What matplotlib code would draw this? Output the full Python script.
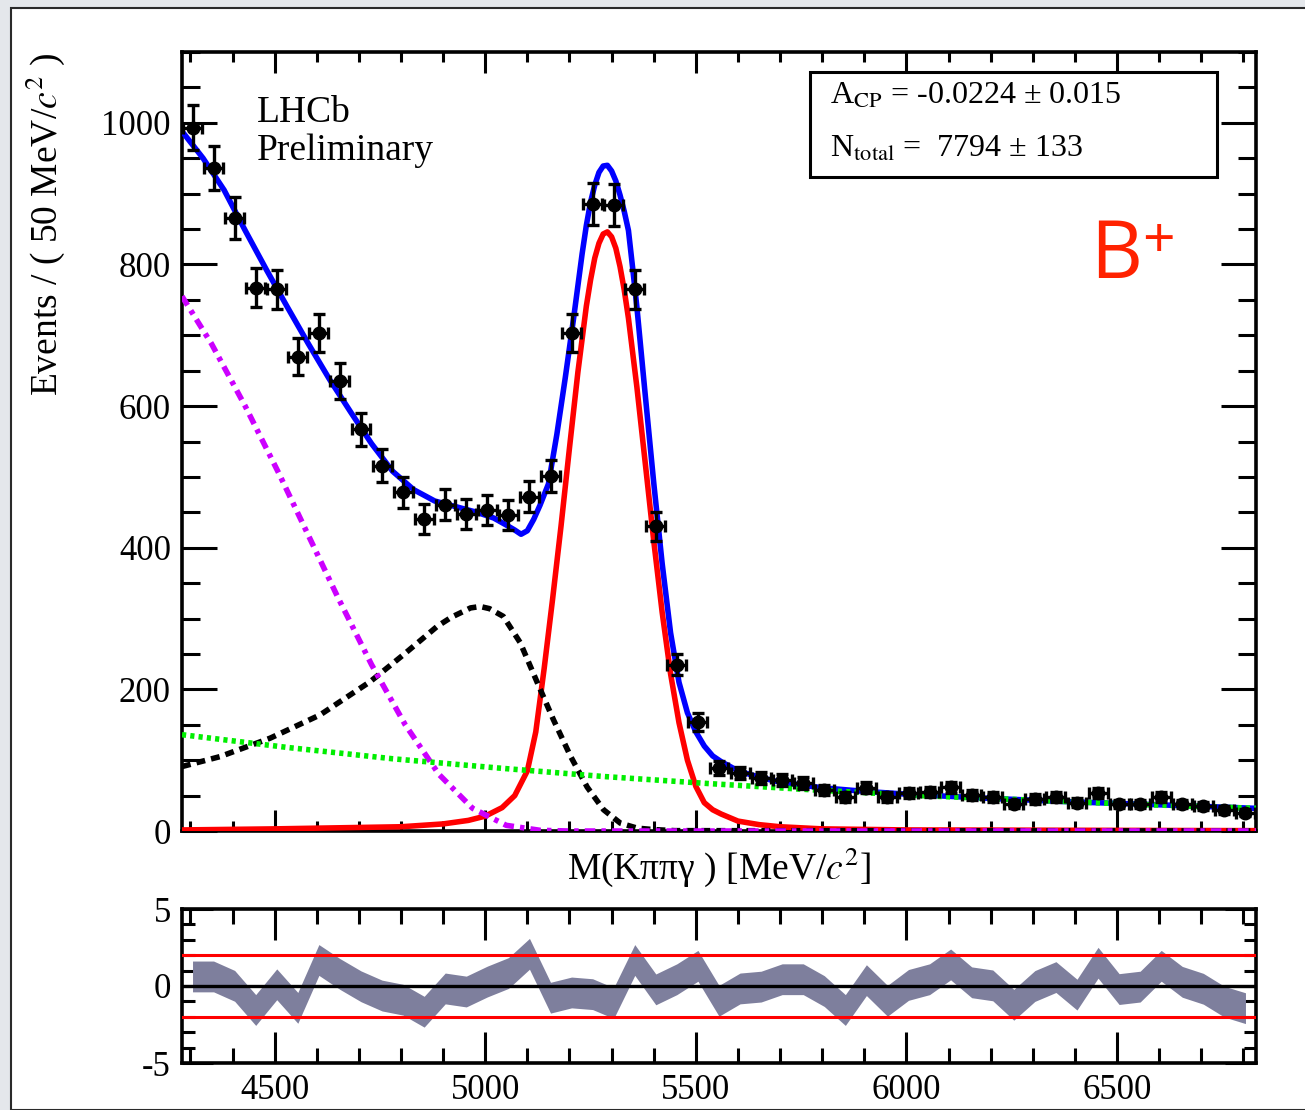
import numpy as np
import matplotlib
matplotlib.use("Agg")
import matplotlib.pyplot as plt
from matplotlib.ticker import MultipleLocator
from matplotlib.patches import Rectangle

# ---------------- data ----------------
mass_lo, mass_hi, bin_width = 4280, 6830, 50
bin_centers = np.arange(mass_lo + bin_width / 2, mass_hi, bin_width)
counts = [993, 936, 866, 767, 765, 670, 703, 635, 567, 516,
          478, 441, 461, 448, 453, 446, 472, 501, 703, 885,
          884, 765, 430, 235, 154, 89, 82, 75, 72, 68,
          58, 48, 61, 48, 54, 55, 62, 51, 48, 38,
          45, 48, 40, 54, 38, 38, 48, 38, 35, 30, 26]
pulls = [0.62, 0.62, 0.01, -1.56, 0.11, -1.42, 1.69, 0.78, -0.02, -0.62,
         -0.89, -1.67, -0.16, -0.36, 0.29, 0.84, 2.09, -0.76, -0.42, -0.53,
         -1.11, 1.69, -0.22, 0.44, 1.31, -0.96, -0.16, -0.04, 0.44, 0.44,
         -0.33, -1.56, 0.38, -0.96, 0.07, 0.44, 1.40, 0.24, 0.04, -1.22,
         0.00, 0.58, -0.56, 1.51, -0.20, -0.04, 1.31, 0.27, -0.18, -1.02, -1.44]
pull_band_halfwidth = 1.0

# fit curves (values at knot masses)
total_x = [4280, 4330, 4380, 4430, 4480, 4530, 4580, 4630, 4680, 4730, 4780, 4830,
           4880, 4930, 4980, 5020, 5050, 5070, 5085, 5100, 5115, 5130, 5150, 5170,
           5190, 5210, 5230, 5240, 5250, 5260, 5270, 5280, 5290, 5300, 5310, 5320,
           5330, 5340, 5350, 5360, 5380, 5400, 5420, 5440, 5460, 5480, 5500, 5520,
           5540, 5560, 5600, 5650, 5700, 5800, 5900, 6000, 6200, 6400, 6600, 6830]
total_y = [988, 950, 905, 848, 793, 740, 688, 638, 592, 547, 508, 482,
           466, 458, 450, 442, 432, 425, 419, 424, 440, 460, 490, 560,
           640, 725, 815, 855, 888, 912, 930, 939, 940, 932, 918, 898,
           875, 848, 795, 740, 615, 492, 378, 280, 210, 167, 140, 120,
           106, 98, 85, 76, 69, 61, 56, 52, 46, 41, 37, 32]

signal_x = [4280, 4500, 4700, 4800, 4900, 4960, 5000, 5040, 5070, 5100, 5120, 5140,
            5160, 5180, 5200, 5220, 5240, 5250, 5260, 5270, 5280, 5290, 5300, 5310,
            5320, 5330, 5340, 5360, 5380, 5400, 5420, 5440, 5460, 5480, 5500, 5520,
            5540, 5560, 5600, 5650, 5700, 5800, 6000, 6830]
signal_y = [1.5, 3, 5, 6, 10, 15, 21, 33, 50, 85, 140, 230,
            328, 431, 541, 648, 741, 778, 809, 830, 843, 846, 839, 823,
            797, 764, 724, 627, 519, 410, 309, 222, 153, 100, 63, 40,
            30, 24, 14, 9, 6, 3, 1.5, 0.5]

peaking_x = [4280, 4370, 4489, 4608, 4727, 4806, 4886, 4920, 4948, 4965, 4988, 5010,
             5043, 5083, 5124, 5162, 5203, 5242, 5281, 5321, 5361, 5400, 5450, 6830]
peaking_y = [91, 105, 131, 164, 211, 249, 289, 302, 310, 315, 317, 314,
             303, 266, 209, 157, 105, 62, 30, 11, 4, 2, 0.5, 0]

partreco_x = [4280, 4350, 4430, 4510, 4590, 4650, 4730, 4810, 4890, 4970, 5050, 5130, 5200, 6830]
partreco_y = [755, 688, 600, 505, 405, 330, 235, 150, 80, 32, 8, 1, 0, 0]

comb_x = [4280, 4530, 4780, 5030, 5280, 5530, 5780, 6030, 6280, 6530, 6830]
comb_y = [136, 118, 102, 89, 77, 67, 58, 50, 44, 38, 32]

acp_text = r"A$_{\rm CP}$ = -0.0224 ± 0.015"
ntot_text = r"N$_{\rm total}$ =  7794 ± 133"

# ---------------- style ----------------
plt.rcParams["font.family"] = ["Liberation Serif", "DejaVu Serif"]
plt.rcParams["mathtext.fontset"] = "stix"
plt.rcParams["axes.unicode_minus"] = False

W, H = 1305, 1110
fig = plt.figure(figsize=(W / 100, H / 100), dpi=100)
fig.patch.set_facecolor("#e4e7eb")
fig.patches.append(Rectangle((11 / W, 0), 2, 1 - 8 / H, transform=fig.transFigure,
                             facecolor="white", edgecolor="#2a2a2a", lw=1.5, zorder=-10))

def fx(px):
    return px / W

def fy(py):
    return 1 - py / H

ax = fig.add_axes([fx(182), fy(831), fx(1256) - fx(182), fy(52) - fy(831)])
rax = fig.add_axes([fx(182), fy(1063), fx(1256) - fx(182), fy(909) - fy(1063)])

for a in (ax, rax):
    for s in a.spines.values():
        s.set_linewidth(2.6)
    a.set_xlim(mass_lo, mass_hi)
    a.xaxis.set_major_locator(MultipleLocator(500))
    a.xaxis.set_minor_locator(MultipleLocator(100))
    a.tick_params(which="both", direction="in", top=True, right=True, width=2.2,
                  labelsize=25, pad=8)

ax.tick_params(axis="x", which="major", length=15)
ax.tick_params(axis="x", which="minor", length=7)
ax.tick_params(axis="y", which="major", length=25)
ax.tick_params(axis="y", which="minor", length=13)
ax.tick_params(axis="x", labelbottom=False)

ax.set_ylim(0, 1100)
ax.yaxis.set_major_locator(MultipleLocator(200))
ax.yaxis.set_minor_locator(MultipleLocator(50))

LW = 4.0
# curves
ax.plot(total_x, total_y, color="#0000ff", lw=LW, zorder=3, solid_joinstyle="round")
ax.plot(signal_x, signal_y, color="#ff0000", lw=LW, zorder=3, solid_joinstyle="round")
ax.plot(peaking_x, peaking_y, color="black", lw=LW, ls=(0, (1.6, 1.1)), zorder=3)
ax.plot(partreco_x, partreco_y, color="#cc00ff", lw=LW,
        ls=(0, (1.9, 1.1, 0.8, 1.1)), zorder=3)
ax.plot(comb_x, comb_y, color="#00ee00", lw=LW, ls=(0, (0.75, 0.75)), zorder=4)

# data
yerr = np.sqrt(np.array(counts, dtype=float))
ax.errorbar(bin_centers, counts, yerr=yerr, xerr=bin_width / 2 * 0.9, fmt="o",
            color="black", ms=9, elinewidth=2.4, capsize=4.5, capthick=2.4, zorder=5)

ax.set_xlabel("M(Kππγ ) [MeV/$c^{2}$]", fontsize=27, labelpad=2)
fig.text(fx(45), fy(52), r"Events / ( 50 MeV/$c^{2}$ )", rotation=90,
         ha="center", va="top", fontsize=27)

ax.text(fx(257), fy(122), "LHCb", transform=fig.transFigure, fontsize=27, va="baseline")
ax.text(fx(257), fy(160), "Preliminary", transform=fig.transFigure, fontsize=27, va="baseline")

fig.patches.append(Rectangle((fx(810), fy(177)), fx(1217) - fx(810), fy(72) - fy(177),
                             transform=fig.transFigure, facecolor="white",
                             edgecolor="black", lw=2.2, zorder=6))
fig.text(fx(830), fy(104), acp_text, fontsize=23, va="baseline", zorder=7)
fig.text(fx(830), fy(157), ntot_text, fontsize=23, va="baseline", zorder=7)

fig.text(fx(1090), fy(278), "B", fontsize=58, color="#ff2200", va="baseline",
         family=["Open Sans", "DejaVu Sans"])
fig.text(fx(1142), fy(257), "+", fontsize=41, color="#ff2200", va="baseline",
         family=["Open Sans", "DejaVu Sans"])

# residuals
rax.fill_between(bin_centers, np.array(pulls) - pull_band_halfwidth,
                 np.array(pulls) + pull_band_halfwidth, color="#7e7f9d", lw=0, zorder=2)
rax.axhline(0, color="black", lw=2.4, zorder=3)
rax.axhline(2, color="#ff0000", lw=2.2, zorder=3)
rax.axhline(-2, color="#ff0000", lw=2.2, zorder=3)
rax.set_ylim(-5, 5)
rax.yaxis.set_major_locator(MultipleLocator(5))
rax.yaxis.set_minor_locator(MultipleLocator(1))
rax.tick_params(axis="x", which="major", length=22)
rax.tick_params(axis="x", which="minor", length=11)
rax.tick_params(axis="y", which="major", length=22)
rax.tick_params(axis="y", which="minor", length=9)

fig.savefig("out.png", dpi=100, facecolor=fig.get_facecolor())
